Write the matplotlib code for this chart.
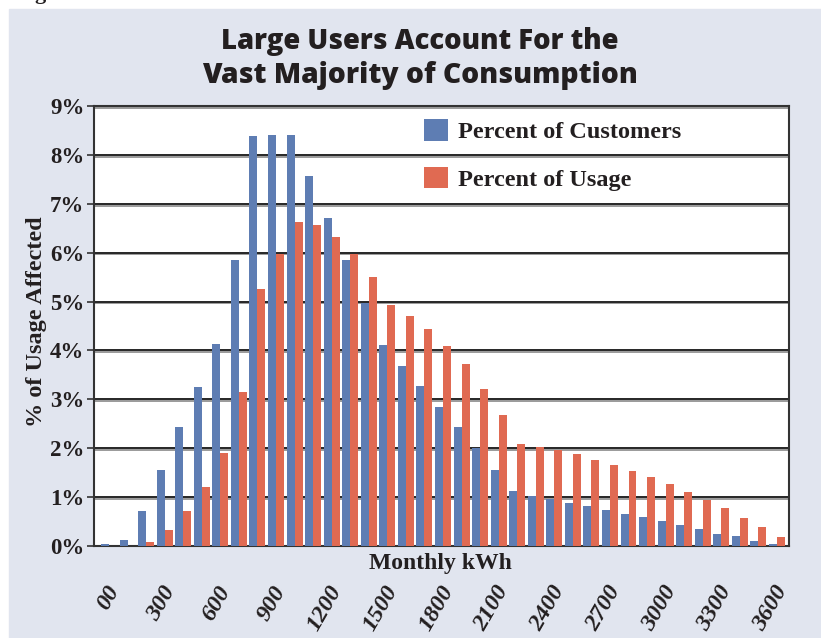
import matplotlib
matplotlib.use("Agg")
import matplotlib.pyplot as plt
import matplotlib.patheffects as pe
from matplotlib.patches import Rectangle

# monthly kWh bins, 100 kWh wide
bins = list(range(0, 3700, 100))
tick_labels = ["00", "300", "600", "900", "1200", "1500", "1800", "2100",
               "2400", "2700", "3000", "3300", "3600"]

pct_customers = [0.05, 0.12, 0.72, 1.56, 2.43, 3.26, 4.14, 5.85, 8.39, 8.41,
                 8.41, 7.56, 6.70, 5.85, 4.97, 4.12, 3.68, 3.28, 2.85, 2.43,
                 2.00, 1.56, 1.12, 1.03, 0.97, 0.88, 0.81, 0.73, 0.66, 0.59,
                 0.51, 0.42, 0.35, 0.25, 0.20, 0.10, 0.05]
pct_usage = [0.0, 0.0, 0.09, 0.33, 0.72, 1.20, 1.91, 3.16, 5.26, 5.97,
             6.62, 6.56, 6.33, 5.97, 5.51, 4.93, 4.70, 4.43, 4.10, 3.72,
             3.22, 2.68, 2.08, 2.03, 1.97, 1.89, 1.76, 1.66, 1.53, 1.41,
             1.26, 1.10, 0.94, 0.77, 0.57, 0.38, 0.18]

blue = "#5E7DB3"
red = "#E06A52"
bg = "#E1E5EF"
ink = "#231F20"
serif = "Liberation Serif"

W, H = 821, 638
fig = plt.figure(figsize=(W / 100, H / 100), dpi=100)
fig.patch.set_facecolor("white")
fig.patches.append(Rectangle((9 / W, 0), 1, 1 - 9 / H, transform=fig.transFigure,
                             color=bg, zorder=-10))
# clipped glyph from the caption above the panel
fig.text(40 / W, 1 + 1.5 / H, "g", fontsize=16, fontweight="bold", family=serif,
         color=ink, ha="center", va="baseline")

ax = fig.add_axes([94 / W, 1 - 546 / H, 695 / W, 440 / H])
ax.set_facecolor("white")

x = list(range(len(bins)))
bw = 0.43
ax.bar([i - bw / 2 for i in x], pct_customers, width=bw, color=blue,
       label="Percent of Customers", zorder=3)
ax.bar([i + bw / 2 for i in x], pct_usage, width=bw, color=red,
       label="Percent of Usage", zorder=3)

ax.set_xlim(-0.81, 36.65)
ax.set_ylim(0, 9)
ax.set_yticks(range(10))
ax.set_yticklabels([f"{v}%" for v in range(10)], fontsize=16.5, fontweight="bold",
                   family=serif, color=ink)
ax.tick_params(axis="y", direction="out", length=5, width=1.2, color="#333333", pad=2)
ax.set_xticks([])

ax.set_axisbelow(True)
ax.yaxis.grid(True, color="#262626", linewidth=1.4,
              path_effects=[pe.SimpleLineShadow(offset=(0, -1.3), shadow_color="#9a9a9a",
                                                 alpha=1), pe.Normal()])
for s in ax.spines.values():
    s.set_color("#333333")
    s.set_linewidth(1.5)

# rotated bin labels every 300 kWh
for k, lab in enumerate(tick_labels):
    ax.annotate(lab, xy=(k * 3, 0), xycoords=("data", "axes fraction"),
                xytext=(4, -30), textcoords="offset points",
                rotation=60, rotation_mode="anchor", ha="right", va="center",
                fontsize=17.5, fontweight="bold", fontstyle="italic", family=serif,
                color=ink)

fig.text(440 / W, 1 - 563 / H, "Monthly kWh", fontsize=17, fontweight="bold",
         family=serif, color=ink, ha="center", va="center")
fig.text(37 / W, 1 - 322 / H, "% of Usage Affected", fontsize=17.5, fontweight="bold",
         family=serif, color=ink, ha="center", va="center", rotation=90)

fig.text(420 / W, 1 - 42 / H, "Large Users Account For the", fontsize=19.8,
         fontweight=800, family="Open Sans", color=ink, ha="center", va="center")
fig.text(420 / W, 1 - 75 / H, "Vast Majority of Consumption", fontsize=20.3,
         fontweight=800, family="Open Sans", color=ink, ha="center", va="center")

leg = ax.legend(loc="upper left", bbox_to_anchor=(0.475, 0.97), frameon=False,
                prop={"family": serif, "weight": "bold", "size": 17.5},
                handlelength=0.98, handleheight=0.98, handletextpad=0.42,
                labelspacing=0.97, borderpad=0, borderaxespad=0)
for t in leg.get_texts():
    t.set_color(ink)

fig.savefig("out.png", dpi=100)
